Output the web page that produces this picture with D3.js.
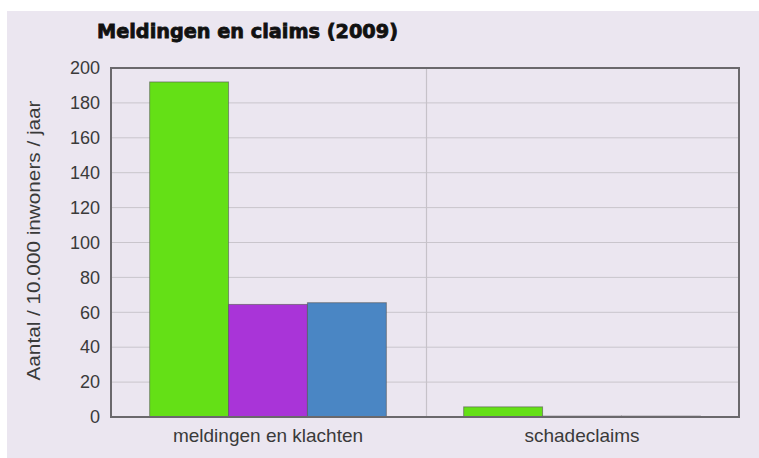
<!DOCTYPE html>
<html lang="nl">
<head>
<meta charset="utf-8">
<title>Meldingen en claims (2009)</title>
<script src="https://cdnjs.cloudflare.com/ajax/libs/d3/7.8.5/d3.min.js"></script>
<style>
  html, body { margin: 0; padding: 0; background: #ffffff; }
  svg { display: block; }
</style>
</head>
<body>
<div id="chart"></div>
<script>
// data
const categories = ["meldingen en klachten", "schadeclaims"];
const seriesNames = ["groen", "paars", "blauw"];
const seriesColors = ["#64e016", "#a934d8", "#4a86c4"];
const values = [
  [192, 64.5, 65.5],   // meldingen en klachten
  [5.8, 0.5, 0.5]      // schadeclaims
];
const yTicks = [0, 20, 40, 60, 80, 100, 120, 140, 160, 180, 200];

const W = 759, H = 458;
const margin = {top: 68, right: 20, bottom: 41, left: 111};
const width = 739 - margin.left, height = 417 - margin.top;
const font = "'Liberation Sans', Arial, sans-serif";

const svg = d3.select("#chart").append("svg")
    .attr("width", W)
    .attr("height", H);

// lavender panel
svg.append("rect")
    .attr("x", 7).attr("y", 11)
    .attr("width", W - 7).attr("height", H - 11)
    .attr("fill", "#ebe6f0");

svg.append("text")
    .attr("x", 97).attr("y", 38)
    .attr("font-family", "'DejaVu Sans', sans-serif")
    .attr("font-weight", "bold")
    .attr("font-size", "19px")
    .attr("textLength", 301)
    .attr("lengthAdjust", "spacingAndGlyphs")
    .attr("stroke", "#111").attr("stroke-width", 0.8)
    .attr("fill", "#111")
    .text("Meldingen en claims (2009)");

const g = svg.append("g")
    .attr("transform", "translate(" + margin.left + "," + margin.top + ")");

const x0 = d3.scaleBand().domain(categories).range([0, width]).padding(0);
const x1 = d3.scaleBand().domain(seriesNames).range([0, x0.bandwidth()])
    .paddingInner(0).paddingOuter(0.49).align(0.5);
const y = d3.scaleLinear().domain([0, 200]).range([height, 0]);

// gridlines
g.append("g")
    .selectAll("line")
    .data(yTicks.slice(1, -1))
    .join("line")
    .attr("x1", 0).attr("x2", width)
    .attr("y1", d => y(d)).attr("y2", d => y(d))
    .attr("stroke", "#c9c5cc").attr("stroke-width", 1);

// category divider
g.append("line")
    .attr("x1", x0(categories[1]) + 1.5).attr("x2", x0(categories[1]) + 1.5)
    .attr("y1", 0).attr("y2", height)
    .attr("stroke", "#c6c2c9").attr("stroke-width", 1.2);

// bars
const groups = g.selectAll(".grp")
    .data(categories)
    .join("g")
    .attr("class", "grp")
    .attr("transform", d => "translate(" + x0(d) + ",0)");

groups.selectAll("rect")
    .data((d, i) => values[i].map((v, j) => ({key: seriesNames[j], v: v, c: seriesColors[j]})))
    .join("rect")
    .attr("x", d => x1(d.key))
    .attr("y", d => y(d.v))
    .attr("width", x1.bandwidth())
    .attr("height", d => height - y(d.v))
    .attr("fill", d => d.c)
    .attr("stroke", "#555")
    .attr("stroke-opacity", 0.6)
    .attr("stroke-width", 1);

// frame
g.append("rect")
    .attr("x", 0).attr("y", 0)
    .attr("width", width).attr("height", height)
    .attr("fill", "none")
    .attr("stroke", "#6a686c").attr("stroke-width", 2);

// y axis
const yAxis = g.append("g")
    .call(d3.axisLeft(y).tickValues(yTicks).tickSize(0).tickPadding(11));
yAxis.select(".domain").remove();
yAxis.selectAll("text")
    .attr("font-family", font)
    .attr("font-size", "18px")
    .attr("fill", "#3a3a3a");

// x axis
const xAxis = g.append("g")
    .attr("transform", "translate(0," + height + ")")
    .call(d3.axisBottom(x0).tickSize(0).tickPadding(12));
xAxis.select(".domain").remove();
xAxis.selectAll("text")
    .attr("font-family", font)
    .attr("font-size", "19px")
    .attr("fill", "#3a3a3a");

// y title
svg.append("text")
    .attr("transform", "translate(40," + (margin.top + height / 2 - 2) + ") rotate(-90)")
    .attr("text-anchor", "middle")
    .attr("font-family", font)
    .attr("font-size", "18px")
    .attr("textLength", 280)
    .attr("lengthAdjust", "spacingAndGlyphs")
    .attr("fill", "#3a3a3a")
    .text("Aantal / 10.000 inwoners / jaar");
</script>
</body>
</html>
